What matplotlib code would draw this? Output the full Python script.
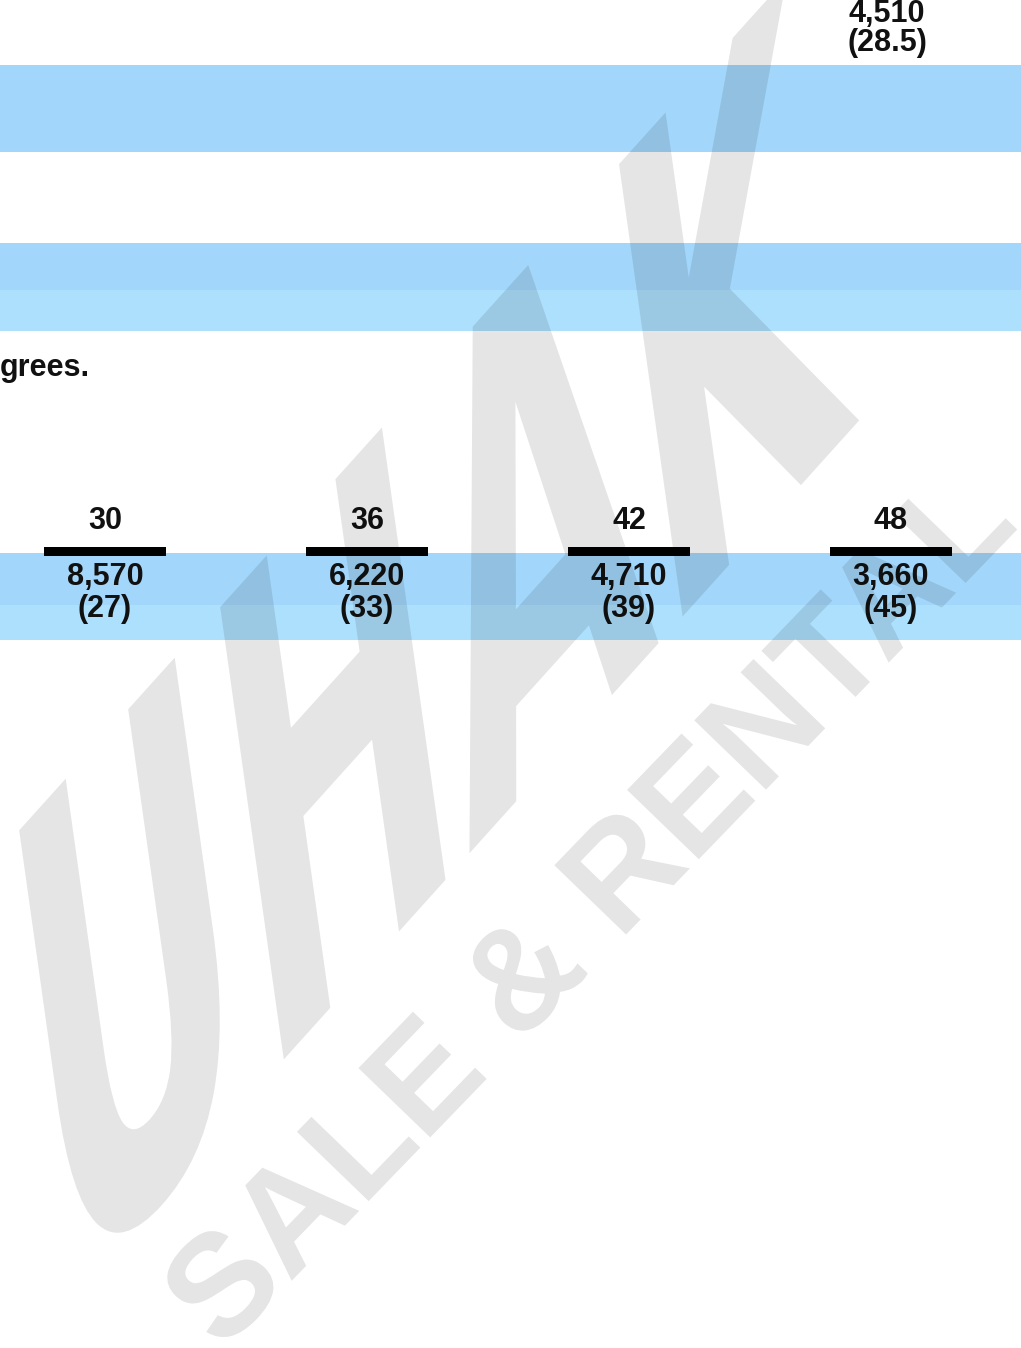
import numpy as np
import matplotlib
matplotlib.use('Agg')
from matplotlib import pyplot as plt
from matplotlib.textpath import TextPath
from matplotlib.font_manager import FontProperties
from matplotlib.patches import PathPatch
from matplotlib.transforms import Affine2D

# load chart values (boom length, load in lbs, radius in ft)
boom_lengths = [30, 36, 42, 48]
loads = [8570, 6220, 4710, 3660]
radii = [27, 33, 39, 45]
top_load = 4510
top_radius = 28.5
top_col = 3

W, H = 1021, 1348
BLUE = '#a2d6fb'
BLUE_LIGHT = '#ade0fd'

fig = plt.figure(figsize=(W / 100, H / 100), dpi=100)
ax = fig.add_axes([0, 0, 1, 1])
# x in column units (col 0 at px 105, 262 px apart), y in pixels from the top
ax.set_xlim(-105 / 262, (W - 105) / 262)
ax.set_ylim(H, 0)
ax.axis('off')

# light blue row bands
ax.axhspan(65, 152, color=BLUE, lw=0)
ax.axhspan(243, 290, color=BLUE, lw=0)
ax.axhspan(290, 331, color=BLUE_LIGHT, lw=0)
ax.axhspan(553, 605, color=BLUE, lw=0)
ax.axhspan(605, 640, color=BLUE_LIGHT, lw=0)

font = dict(family='Liberation Sans', weight='bold', color='#111111')
fs = 22
cols = np.arange(len(boom_lengths))

ax.text(top_col - 0.015, 14, f'{top_load:,}', ha='center', va='center', fontsize=fs, **font)
ax.text(top_col - 0.015, 43, f'({top_radius})', ha='center', va='center', fontsize=fs, **font)
ax.text(-105 / 262, 368, 'grees.', ha='left', va='center', fontsize=fs, **font)

ax.bar(cols, 9, bottom=547, width=0.466, color='black')
for i in cols:
    ax.text(i, 521, str(boom_lengths[i]), ha='center', va='center', fontsize=fs, **font)
    ax.text(i, 577, f'{loads[i]:,}', ha='center', va='center', fontsize=fs, **font)
    ax.text(i, 609, f'({radii[i]})', ha='center', va='center', fontsize=fs, **font)

# watermark overlay, pixel coords with y up
wm = fig.add_axes([0, 0, 1, 1])
wm.set_xlim(0, W)
wm.set_ylim(0, H)
wm.axis('off')
wm.patch.set_alpha(0)

fp = FontProperties(family='DejaVu Sans', weight='bold')
logo = TextPath((0, 0), 'UHAK', size=100, prop=fp)
tr = Affine2D().scale(3.7, 4.8).skew_deg(40, 0).rotate_deg(48).translate(60, 40)
wm.add_patch(PathPatch(tr.transform_path(logo), fc='black', alpha=0.1, lw=0))

fp2 = FontProperties(family='Liberation Sans', weight='bold')
sale = TextPath((0, 0), 'SALE & RENTAL', size=145, prop=fp2)
tr2 = Affine2D().rotate_deg(46).translate(222, -5)
wm.add_patch(PathPatch(tr2.transform_path(sale), fc='black', alpha=0.1, lw=0))

fig.savefig('out.png', dpi=100)
